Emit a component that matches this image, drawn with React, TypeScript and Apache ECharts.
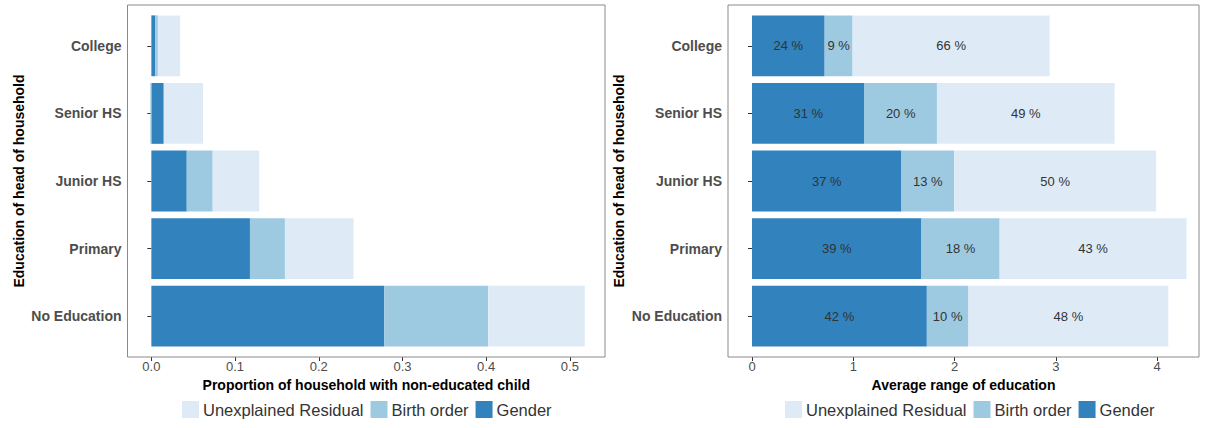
import React, { useEffect, useRef } from "react";
import * as echarts from "echarts";

// Education level of the household head (top to bottom)
const categories = ["College", "Senior HS", "Junior HS", "Primary", "No Education"];

// Left panel: proportion of households with a non-educated child, decomposed
const propGender = [0.0048, 0.0148, 0.0423, 0.1178, 0.2783];
const propBirth = [0.003, -0.0012, 0.031, 0.0418, 0.1241];
const propResidual = [0.0266, 0.0469, 0.0556, 0.082, 0.1154];

// Right panel: average range of education, decomposed
const rangeGender = [0.717, 1.11, 1.476, 1.673, 1.726];
const rangeBirth = [0.276, 0.716, 0.519, 0.772, 0.411];
const rangeResidual = [1.946, 1.754, 1.995, 1.845, 1.973];

const leftTicks = [0, 0.1, 0.2, 0.3, 0.4, 0.5];
const rightTicks = [0, 1, 2, 3, 4];

const legendNames = ["Unexplained Residual", "Birth order", "Gender"];
const COLORS = { Gender: "#3182BD", "Birth order": "#9ECAE1", "Unexplained Residual": "#DEEBF7" };

const FONT = "'Liberation Sans', Arial, Helvetica, sans-serif";

const rangeTotals = categories.map((_, i) => rangeGender[i] + rangeBirth[i] + rangeResidual[i]);

export default function App() {
  const ref = useRef<HTMLDivElement>(null);

  useEffect(() => {
    if (!ref.current) return;
    const chart = echarts.init(ref.current, null, { renderer: "svg" });

    const panels = [
      { left: 127.5, width: 477.5 },
      { left: 728, width: 471 },
    ];
    const panelTop = 5;
    const panelHeight = 352;
    const bandH = 67.6;
    const gridHeight = bandH * 5;
    const gridTop = panelTop + (panelHeight - gridHeight) / 2;

    const grids = panels.map((p) => ({
      left: p.left,
      width: p.width,
      top: gridTop,
      height: gridHeight,
      containLabel: false,
    }));

    const xAxisCommon = (i: number, min: number, max: number, ticks: number[], fmt: (v: number) => string, name: string) => ({
      type: "value",
      gridIndex: i,
      min,
      max,
      offset: panelTop + panelHeight - (gridTop + gridHeight),
      splitLine: { show: false },
      axisLine: { show: false },
      axisTick: { show: true, length: 4, customValues: ticks, lineStyle: { color: "#333", width: 1 } },
      axisLabel: {
        customValues: ticks,
        formatter: (v: number) => fmt(v),
        color: "#4d4d4d",
        fontSize: 13,
        fontFamily: FONT,
        margin: 3,
      },
      name,
      nameLocation: "middle",
      nameGap: 19,
      nameTextStyle: { color: "#000", fontWeight: "bold", fontSize: 14, fontFamily: FONT },
    });

    const yAxisCommon = (i: number, nameGap: number) => ({
      type: "category",
      gridIndex: i,
      data: categories,
      inverse: true,
      axisLine: { show: false },
      axisTick: { show: true, length: 4, alignWithLabel: true, lineStyle: { color: "#333" } },
      axisLabel: { color: "#4d4d4d", fontSize: 14, fontWeight: "bold", fontFamily: FONT, margin: 6 },
      name: "Education of head of household",
      nameLocation: "middle",
      nameRotate: 90,
      nameGap,
      nameTextStyle: { color: "#000", fontWeight: "bold", fontSize: 14, fontFamily: FONT },
    });

    const pctLabel = {
      show: true,
      position: "inside",
      color: "#333",
      fontSize: 13,
      fontFamily: FONT,
      formatter: (p: any) => Math.round((p.value / rangeTotals[p.dataIndex]) * 100) + " %",
    };

    const bar = (name: string, data: number[], idx: number, stack: string, label?: any) => ({
      type: "bar",
      name,
      data,
      xAxisIndex: idx,
      yAxisIndex: idx,
      stack,
      barWidth: "90%",
      itemStyle: { color: (COLORS as any)[name] },
      label: label || { show: false },
      emphasis: { disabled: true },
    });

    const legendCommon = (left: number) => ({
      left,
      top: 401,
      padding: 0,
      orient: "horizontal",
      data: legendNames,
      itemWidth: 17,
      itemHeight: 17,
      itemGap: 7,
      icon: "rect",
      selectedMode: false,
      textStyle: { color: "#333", fontSize: 16.5, fontFamily: FONT, padding: [0, 0, 0, -1] },
    });

    chart.setOption({
      animation: false,
      backgroundColor: "#fff",
      grid: grids,
      xAxis: [
        xAxisCommon(0, -0.0285, 0.542, leftTicks, (v) => v.toFixed(1), "Proportion of household with non-educated child"),
        xAxisCommon(1, -0.237, 4.413, rightTicks, (v) => String(v), "Average range of education"),
      ],
      yAxis: [yAxisCommon(0, 102), yAxisCommon(1, 102)],
      legend: [legendCommon(182), legendCommon(785)],
      series: [
        bar("Gender", propGender, 0, "left"),
        bar("Birth order", propBirth, 0, "left"),
        bar("Unexplained Residual", propResidual, 0, "left"),
        bar("Gender", rangeGender, 1, "right", pctLabel),
        bar("Birth order", rangeBirth, 1, "right", pctLabel),
        bar("Unexplained Residual", rangeResidual, 1, "right", pctLabel),
      ],
      graphic: panels.map((p) => ({
        type: "rect",
        shape: { x: p.left, y: panelTop, width: p.width, height: panelHeight },
        style: { fill: "none", stroke: "#8a8a8a", lineWidth: 1 },
        z: 100,
        silent: true,
      })),
    });

    return () => chart.dispose();
  }, []);

  return (
    <div
      ref={ref}
      style={{ position: "fixed", left: 0, top: 0, width: 1206, height: 428, background: "#fff" }}
    />
  );
}
